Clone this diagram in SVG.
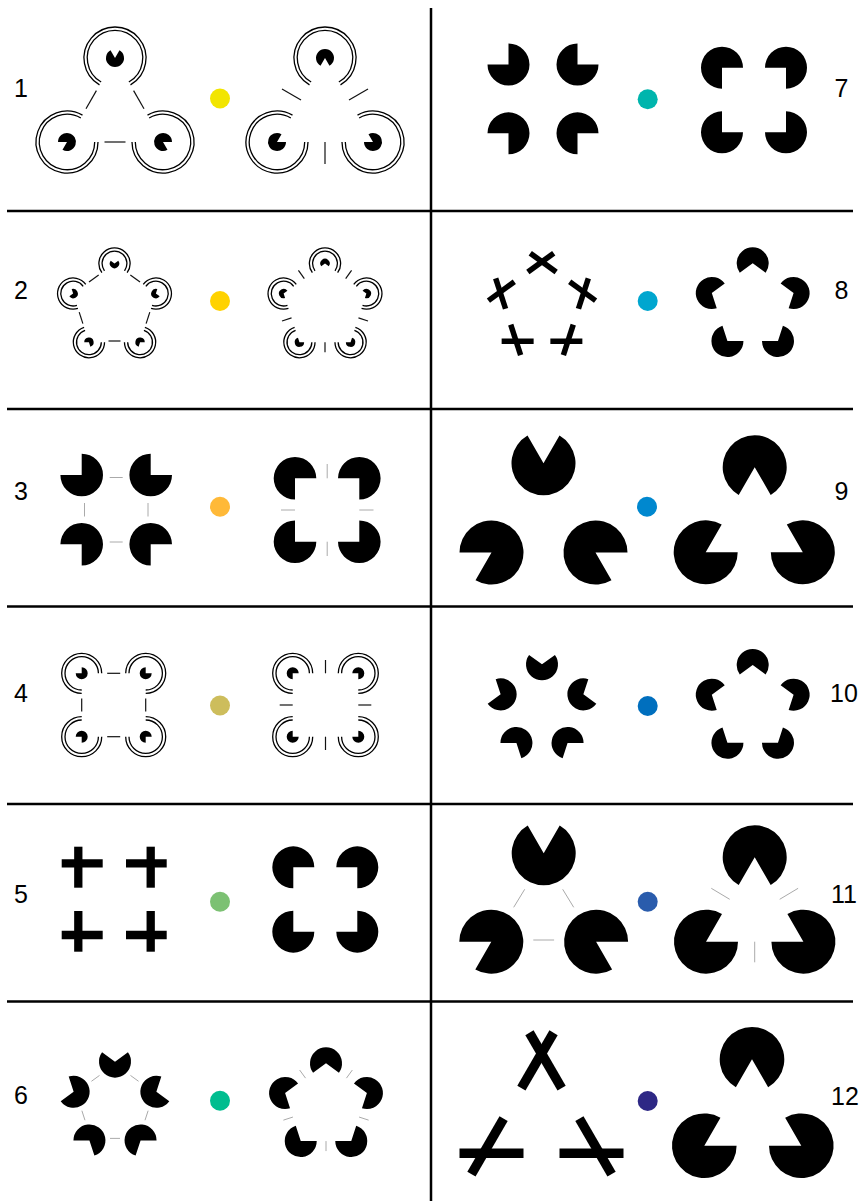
<svg xmlns="http://www.w3.org/2000/svg" xmlns:xlink="http://www.w3.org/1999/xlink" width="866" height="1204" viewBox="0 0 866 1204">
<style>
.grid{stroke:#000;stroke-width:2.5;fill:none}
.ring{fill:none;stroke:#000;stroke-width:1.3}
.bl{stroke:#111;stroke-width:1.2;fill:none}
.gl{stroke:#aaa;stroke-width:1;fill:none}
.pac{fill:#000}
.bar5{stroke:#000;stroke-width:5.5}
.bar8{stroke:#000;stroke-width:8.3}
.bar10{stroke:#000;stroke-width:9.5}
.lbl{font-family:"Liberation Sans",Arial,sans-serif;font-size:25px;fill:#000}
</style>
<defs>
<path id="p60" class="pac" d="M0,0 L0.866,0.5 A1,1 0 1 1 0.866,-0.5 Z"/>
<path id="p90" class="pac" d="M0,0 L0.7071,0.7071 A1,1 0 1 1 0.7071,-0.7071 Z"/>
<path id="p108" class="pac" d="M0,0 L0.5878,0.809 A1,1 0 1 1 0.5878,-0.809 Z"/>
<path id="ring1" class="ring" d="M26.85,15.5 A31,31 0 1 1 26.85,-15.5 M23.99,13.85 A27.7,27.7 0 1 1 23.99,-13.85"/>
<path id="ring2" class="ring" d="M9.17,12.62 A15.6,15.6 0 1 1 9.17,-12.62 M7.29,10.03 A12.4,12.4 0 1 1 7.29,-10.03"/>
<path id="ring4" class="ring" d="M14.14,14.14 A20,20 0 1 1 14.14,-14.14 M11.81,11.81 A16.7,16.7 0 1 1 11.81,-11.81"/>
</defs>
<rect width="866" height="1204" fill="#fff"/>
<g id="grid">
<line class="grid" x1="431" y1="8" x2="431" y2="1201"/>
<line class="grid" x1="7" y1="211" x2="853" y2="211"/>
<line class="grid" x1="7" y1="409" x2="853" y2="409"/>
<line class="grid" x1="7" y1="606.5" x2="853" y2="606.5"/>
<line class="grid" x1="7" y1="804" x2="853" y2="804"/>
<line class="grid" x1="7" y1="1001.5" x2="853" y2="1001.5"/>
</g>
<g id="labels">
<text class="lbl" x="21" y="97" text-anchor="middle">1</text>
<text class="lbl" x="21" y="299" text-anchor="middle">2</text>
<text class="lbl" x="21" y="500" text-anchor="middle">3</text>
<text class="lbl" x="21" y="701.5" text-anchor="middle">4</text>
<text class="lbl" x="21" y="902.5" text-anchor="middle">5</text>
<text class="lbl" x="21" y="1104" text-anchor="middle">6</text>
<text class="lbl" x="841.5" y="97" text-anchor="middle">7</text>
<text class="lbl" x="841.5" y="299" text-anchor="middle">8</text>
<text class="lbl" x="841.5" y="500" text-anchor="middle">9</text>
<text class="lbl" x="844" y="702" text-anchor="middle">10</text>
<text class="lbl" x="844" y="903" text-anchor="middle">11</text>
<text class="lbl" x="845" y="1105" text-anchor="middle">12</text>
</g>
<g id="dots">
<circle cx="220" cy="98.5" r="10" fill="#f2e500"/>
<circle cx="220" cy="301" r="10" fill="#ffd200"/>
<circle cx="220" cy="506.7" r="10" fill="#ffb938"/>
<circle cx="220" cy="705.5" r="10" fill="#cdbd5c"/>
<circle cx="220" cy="901.7" r="10" fill="#7cc173"/>
<circle cx="220" cy="1100.7" r="10" fill="#00bd8f"/>
<circle cx="647.7" cy="99.3" r="10" fill="#00b5ad"/>
<circle cx="647.7" cy="301" r="10" fill="#00a6cf"/>
<circle cx="647" cy="506.7" r="10" fill="#0088cf"/>
<circle cx="647.7" cy="706" r="10" fill="#006fbe"/>
<circle cx="647.7" cy="901.7" r="10" fill="#2a5cac"/>
<circle cx="647.7" cy="1101" r="10" fill="#2e2885"/>
</g>
<!-- Panel 1 -->
<g id="fig1a">
<use href="#ring1" transform="translate(115,58) rotate(90)"/>
<use href="#ring1" transform="translate(67,142) rotate(-30)"/>
<use href="#ring1" transform="translate(163,142) rotate(210)"/>
<use href="#p60" transform="translate(115,58) rotate(-90) scale(9)"/>
<use href="#p60" transform="translate(67,142) rotate(150) scale(9)"/>
<use href="#p60" transform="translate(163,142) rotate(30) scale(9)"/>
</g>
<g id="fig1b">
<use href="#ring1" transform="translate(325,58) rotate(90)"/>
<use href="#ring1" transform="translate(277,142) rotate(-30)"/>
<use href="#ring1" transform="translate(373,142) rotate(210)"/>
<use href="#p60" transform="translate(325,58) rotate(90) scale(9)"/>
<use href="#p60" transform="translate(277,142) rotate(-30) scale(9)"/>
<use href="#p60" transform="translate(373,142) rotate(210) scale(9)"/>
</g>
<!-- Panel 2 -->
<g id="fig2a">
<use href="#ring2" transform="translate(114.5,263.5) rotate(90)"/>
<use href="#ring2" transform="translate(155.87,293.56) rotate(162)"/>
<use href="#ring2" transform="translate(140.07,342.19) rotate(234)"/>
<use href="#ring2" transform="translate(88.93,342.19) rotate(306)"/>
<use href="#ring2" transform="translate(73.13,293.56) rotate(18)"/>
<use href="#p108" transform="translate(114.5,263.5) rotate(-90) scale(4.7)"/>
<use href="#p108" transform="translate(155.87,293.56) rotate(-18) scale(4.7)"/>
<use href="#p108" transform="translate(140.07,342.19) rotate(54) scale(4.7)"/>
<use href="#p108" transform="translate(88.93,342.19) rotate(126) scale(4.7)"/>
<use href="#p108" transform="translate(73.13,293.56) rotate(198) scale(4.7)"/>
</g>
<g id="fig2b">
<use href="#ring2" transform="translate(325,263.5) rotate(90)"/>
<use href="#ring2" transform="translate(366.37,293.56) rotate(162)"/>
<use href="#ring2" transform="translate(350.57,342.19) rotate(234)"/>
<use href="#ring2" transform="translate(299.43,342.19) rotate(306)"/>
<use href="#ring2" transform="translate(283.63,293.56) rotate(18)"/>
<use href="#p108" transform="translate(325,263.5) rotate(90) scale(4.7)"/>
<use href="#p108" transform="translate(366.37,293.56) rotate(162) scale(4.7)"/>
<use href="#p108" transform="translate(350.57,342.19) rotate(234) scale(4.7)"/>
<use href="#p108" transform="translate(299.43,342.19) rotate(306) scale(4.7)"/>
<use href="#p108" transform="translate(283.63,293.56) rotate(18) scale(4.7)"/>
</g>
<!-- Panel 3 -->
<g id="fig3a">
<use href="#p90" transform="translate(81.7,475) rotate(225) scale(21.3)"/>
<use href="#p90" transform="translate(150.7,475) rotate(315) scale(21.3)"/>
<use href="#p90" transform="translate(81.7,544.3) rotate(135) scale(21.3)"/>
<use href="#p90" transform="translate(150.7,544.3) rotate(45) scale(21.3)"/>
</g>
<g id="fig3b">
<use href="#p90" transform="translate(295,478.3) rotate(45) scale(21.3)"/>
<use href="#p90" transform="translate(359.3,478.3) rotate(135) scale(21.3)"/>
<use href="#p90" transform="translate(295,541.7) rotate(-45) scale(21.3)"/>
<use href="#p90" transform="translate(359.3,541.7) rotate(225) scale(21.3)"/>
</g>
<!-- Panel 4 -->
<g id="fig4a">
<use href="#ring4" transform="translate(81.7,673.3) rotate(45)"/>
<use href="#ring4" transform="translate(145.7,673.3) rotate(135)"/>
<use href="#ring4" transform="translate(81.7,736.7) rotate(-45)"/>
<use href="#ring4" transform="translate(145.7,736.7) rotate(225)"/>
<use href="#p90" transform="translate(81.7,673.3) rotate(225) scale(6)"/>
<use href="#p90" transform="translate(145.7,673.3) rotate(315) scale(6)"/>
<use href="#p90" transform="translate(81.7,736.7) rotate(135) scale(6)"/>
<use href="#p90" transform="translate(145.7,736.7) rotate(45) scale(6)"/>
</g>
<g id="fig4b">
<use href="#ring4" transform="translate(292.7,673.3) rotate(45)"/>
<use href="#ring4" transform="translate(358.3,673.3) rotate(135)"/>
<use href="#ring4" transform="translate(292.7,736.7) rotate(-45)"/>
<use href="#ring4" transform="translate(358.3,736.7) rotate(225)"/>
<use href="#p90" transform="translate(292.7,673.3) rotate(45) scale(6)"/>
<use href="#p90" transform="translate(358.3,673.3) rotate(135) scale(6)"/>
<use href="#p90" transform="translate(292.7,736.7) rotate(-45) scale(6)"/>
<use href="#p90" transform="translate(358.3,736.7) rotate(225) scale(6)"/>
</g>
<!-- Panel 5 -->
<g id="fig5a">
<line class="bar8" x1="61.7" y1="863.3" x2="102.7" y2="863.3"/>
<line class="bar8" x1="78.3" y1="846.7" x2="78.3" y2="887.7"/>
<line class="bar8" x1="126" y1="863.3" x2="166.7" y2="863.3"/>
<line class="bar8" x1="150.7" y1="846.7" x2="150.7" y2="887.7"/>
<line class="bar8" x1="61.7" y1="935" x2="102.7" y2="935"/>
<line class="bar8" x1="78.3" y1="911" x2="78.3" y2="951.7"/>
<line class="bar8" x1="126" y1="935" x2="166.7" y2="935"/>
<line class="bar8" x1="150.7" y1="911" x2="150.7" y2="951.7"/>
</g>
<g id="fig5b">
<use href="#p90" transform="translate(293.3,867.3) rotate(45) scale(21)"/>
<use href="#p90" transform="translate(357.3,867.3) rotate(135) scale(21)"/>
<use href="#p90" transform="translate(293.3,931.7) rotate(-45) scale(21)"/>
<use href="#p90" transform="translate(357.3,931.7) rotate(225) scale(21)"/>
</g>
<!-- Panel 6 -->
<g id="fig6a">
<use href="#p108" transform="translate(115,1061.7) rotate(-90) scale(16)"/>
<use href="#p108" transform="translate(156.37,1091.76) rotate(-18) scale(16)"/>
<use href="#p108" transform="translate(140.57,1140.39) rotate(54) scale(16)"/>
<use href="#p108" transform="translate(89.43,1140.39) rotate(126) scale(16)"/>
<use href="#p108" transform="translate(73.63,1091.76) rotate(198) scale(16)"/>
</g>
<g id="fig6b">
<use href="#p108" transform="translate(326,1063.3) rotate(90) scale(16)"/>
<use href="#p108" transform="translate(366.9,1093.01) rotate(162) scale(16)"/>
<use href="#p108" transform="translate(351.27,1141.09) rotate(234) scale(16)"/>
<use href="#p108" transform="translate(300.73,1141.09) rotate(306) scale(16)"/>
<use href="#p108" transform="translate(285.1,1093.01) rotate(18) scale(16)"/>
</g>
<!-- Panel 7 -->
<g id="fig7a">
<use href="#p90" transform="translate(508.5,64.5) rotate(225) scale(21)"/>
<use href="#p90" transform="translate(577.5,64.5) rotate(315) scale(21)"/>
<use href="#p90" transform="translate(508.5,133.3) rotate(135) scale(21)"/>
<use href="#p90" transform="translate(577.5,133.3) rotate(45) scale(21)"/>
</g>
<g id="fig7b">
<use href="#p90" transform="translate(722,67.7) rotate(45) scale(21)"/>
<use href="#p90" transform="translate(786,67.7) rotate(135) scale(21)"/>
<use href="#p90" transform="translate(722,132.3) rotate(-45) scale(21)"/>
<use href="#p90" transform="translate(786,132.3) rotate(225) scale(21)"/>
</g>
<!-- Panel 8 -->
<g id="fig8a">
<line class="bar5" x1="530.27" y1="253.17" x2="556.16" y2="271.99"/>
<line class="bar5" x1="553.73" y1="253.17" x2="527.84" y2="271.99"/>
<line class="bar5" x1="595.58" y1="300.63" x2="569.69" y2="281.81"/>
<line class="bar5" x1="588.33" y1="278.31" x2="578.44" y2="308.74"/>
<line class="bar5" x1="563.38" y1="355.09" x2="573.27" y2="324.66"/>
<line class="bar5" x1="582.36" y1="341.3" x2="550.36" y2="341.3"/>
<line class="bar5" x1="501.64" y1="341.3" x2="533.64" y2="341.3"/>
<line class="bar5" x1="520.62" y1="355.09" x2="510.73" y2="324.66"/>
<line class="bar5" x1="495.67" y1="278.31" x2="505.56" y2="308.74"/>
<line class="bar5" x1="488.42" y1="300.63" x2="514.31" y2="281.81"/>
</g>
<g id="fig8b">
<use href="#p108" transform="translate(752.7,263.3) rotate(90) scale(16)"/>
<use href="#p108" transform="translate(793.6,293.01) rotate(162) scale(16)"/>
<use href="#p108" transform="translate(777.97,341.09) rotate(234) scale(16)"/>
<use href="#p108" transform="translate(727.43,341.09) rotate(306) scale(16)"/>
<use href="#p108" transform="translate(711.8,293.01) rotate(18) scale(16)"/>
</g>
<!-- Panel 9 -->
<g id="fig9a">
<use href="#p60" transform="translate(543.5,463.3) rotate(-90) scale(32)"/>
<use href="#p60" transform="translate(491.5,552.5) rotate(150) scale(32)"/>
<use href="#p60" transform="translate(595.5,552.5) rotate(30) scale(32)"/>
</g>
<g id="fig9b">
<use href="#p60" transform="translate(754.7,467.2) rotate(90) scale(32)"/>
<use href="#p60" transform="translate(705.7,552.3) rotate(-30) scale(32)"/>
<use href="#p60" transform="translate(802.8,552.3) rotate(210) scale(32)"/>
</g>
<!-- Panel 10 -->
<g id="fig10a">
<use href="#p108" transform="translate(542,664.3) rotate(-90) scale(16)"/>
<use href="#p108" transform="translate(583.37,694.36) rotate(-18) scale(16)"/>
<use href="#p108" transform="translate(567.57,742.99) rotate(54) scale(16)"/>
<use href="#p108" transform="translate(516.43,742.99) rotate(126) scale(16)"/>
<use href="#p108" transform="translate(500.63,694.36) rotate(198) scale(16)"/>
</g>
<g id="fig10b">
<use href="#p108" transform="translate(752.7,665) rotate(90) scale(16)"/>
<use href="#p108" transform="translate(793.6,694.71) rotate(162) scale(16)"/>
<use href="#p108" transform="translate(777.97,742.79) rotate(234) scale(16)"/>
<use href="#p108" transform="translate(727.43,742.79) rotate(306) scale(16)"/>
<use href="#p108" transform="translate(711.8,694.71) rotate(18) scale(16)"/>
</g>
<!-- Panel 11 -->
<g id="fig11a">
<use href="#p60" transform="translate(543.7,853.3) rotate(-90) scale(32)"/>
<use href="#p60" transform="translate(491.3,941.7) rotate(150) scale(32)"/>
<use href="#p60" transform="translate(596.1,941.7) rotate(30) scale(32)"/>
</g>
<g id="fig11b">
<use href="#p60" transform="translate(754.7,857.3) rotate(90) scale(32)"/>
<use href="#p60" transform="translate(706,941.7) rotate(-30) scale(32)"/>
<use href="#p60" transform="translate(803.4,941.7) rotate(210) scale(32)"/>
</g>
<!-- Panel 12 -->
<g id="fig12a">
<line class="bar10" x1="553.56" y1="1032.74" x2="521.4" y2="1088.09"/>
<line class="bar10" x1="529.44" y1="1032.74" x2="561.6" y2="1088.09"/>
<line class="bar10" x1="471.44" y1="1174.06" x2="503.6" y2="1118.71"/>
<line class="bar10" x1="459.5" y1="1153.3" x2="523.5" y2="1153.3"/>
<line class="bar10" x1="611.56" y1="1174.06" x2="579.4" y2="1118.71"/>
<line class="bar10" x1="623.5" y1="1153.3" x2="559.5" y2="1153.3"/>
</g>
<g id="fig12b">
<use href="#p60" transform="translate(752,1059.3) rotate(90) scale(32.3)"/>
<use href="#p60" transform="translate(704.3,1145.7) rotate(-30) scale(32.3)"/>
<use href="#p60" transform="translate(801.3,1145.7) rotate(210) scale(32.3)"/>
</g>
<g id="connectors">
<!-- panel 1 -->
<line class="bl" x1="96.4" y1="90.6" x2="86" y2="108.8"/>
<line class="bl" x1="133.6" y1="90.6" x2="144" y2="108.8"/>
<line class="bl" x1="104.5" y1="142" x2="125.5" y2="142"/>
<line class="bl" x1="301" y1="100" x2="282" y2="89"/>
<line class="bl" x1="349" y1="100" x2="368" y2="89"/>
<line class="bl" x1="325" y1="142" x2="325" y2="164"/>
<!-- panel 2 -->
<line class="bl" x1="130.34" y1="275" x2="140.04" y2="282.06"/>
<line class="bl" x1="149.82" y1="312.17" x2="146.12" y2="323.59"/>
<line class="bl" x1="108.5" y1="341" x2="120.5" y2="341"/>
<line class="bl" x1="82.88" y1="323.59" x2="79.18" y2="312.17"/>
<line class="bl" x1="89" y1="282.06" x2="98.67" y2="275"/>
<line class="bl" x1="345.68" y1="278.53" x2="351.56" y2="270.44"/>
<line class="bl" x1="358.47" y1="317.87" x2="367.98" y2="320.96"/>
<line class="bl" x1="325" y1="342.19" x2="325" y2="352.19"/>
<line class="bl" x1="291.53" y1="317.87" x2="282.02" y2="320.96"/>
<line class="bl" x1="304.32" y1="278.53" x2="298.44" y2="270.44"/>
<!-- panel 3 -->
<line class="gl" x1="109.7" y1="477.5" x2="122.7" y2="477.5"/>
<line class="gl" x1="109.7" y1="542" x2="122.7" y2="542"/>
<line class="gl" x1="84.5" y1="503" x2="84.5" y2="516.5"/>
<line class="gl" x1="148" y1="503" x2="148" y2="516.5"/>
<line class="gl" x1="327.2" y1="478.3" x2="327.2" y2="464"/>
<line class="gl" x1="327.2" y1="541.7" x2="327.2" y2="556"/>
<line class="gl" x1="295" y1="510" x2="281" y2="510"/>
<line class="gl" x1="359.3" y1="510" x2="373.5" y2="510"/>
<!-- panel 4 -->
<line class="bl" x1="107.2" y1="673.3" x2="120.2" y2="673.3"/>
<line class="bl" x1="107.2" y1="736.7" x2="120.2" y2="736.7"/>
<line class="bl" x1="81.7" y1="698.5" x2="81.7" y2="711.5"/>
<line class="bl" x1="145.7" y1="698.5" x2="145.7" y2="711.5"/>
<line class="bl" x1="325.5" y1="673.3" x2="325.5" y2="660"/>
<line class="bl" x1="325.5" y1="736.7" x2="325.5" y2="750"/>
<line class="bl" x1="292.7" y1="705" x2="279.7" y2="705"/>
<line class="bl" x1="358.3" y1="705" x2="371.3" y2="705"/>
<!-- panel 6 -->
<line class="gl" x1="130.46" y1="1075.41" x2="138.56" y2="1081.29"/>
<line class="gl" x1="148.12" y1="1110.7" x2="145.02" y2="1120.22"/>
<line class="gl" x1="110" y1="1138.39" x2="120" y2="1138.39"/>
<line class="gl" x1="81.88" y1="1110.7" x2="84.98" y2="1120.22"/>
<line class="gl" x1="99.54" y1="1075.41" x2="91.44" y2="1081.29"/>
<line class="gl" x1="346.45" y1="1078.15" x2="352.33" y2="1070.06"/>
<line class="gl" x1="359.09" y1="1117.05" x2="368.6" y2="1120.14"/>
<line class="gl" x1="326" y1="1141.09" x2="326" y2="1151.09"/>
<line class="gl" x1="292.91" y1="1117.05" x2="283.4" y2="1120.14"/>
<line class="gl" x1="305.55" y1="1078.15" x2="299.67" y2="1070.06"/>
<!-- panel 11 -->
<line class="gl" x1="524.7" y1="889.3" x2="513.7" y2="907.3"/>
<line class="gl" x1="562.7" y1="889.3" x2="573.7" y2="907.3"/>
<line class="gl" x1="533.3" y1="940" x2="554.1" y2="940"/>
<line class="gl" x1="711.3" y1="888.3" x2="729.7" y2="899.3"/>
<line class="gl" x1="779.7" y1="899.3" x2="798.1" y2="888.3"/>
<line class="gl" x1="754.7" y1="941.7" x2="754.7" y2="962.3"/>
</g>
</svg>
